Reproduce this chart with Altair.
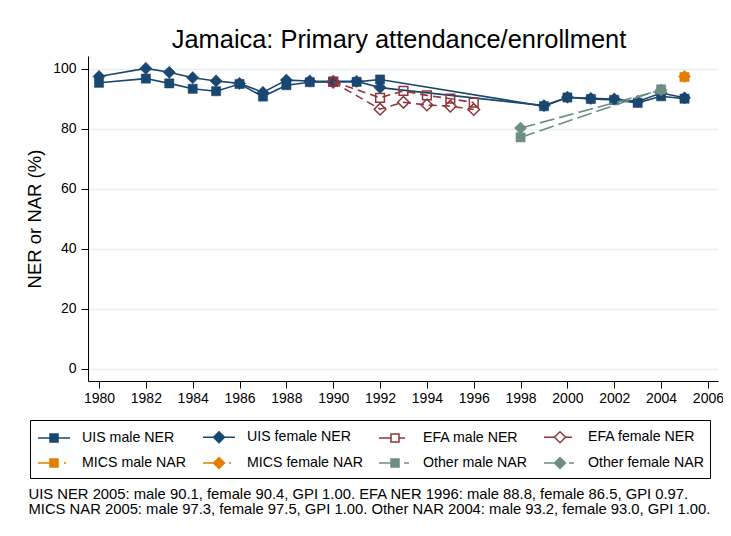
import altair as alt
import pandas as pd

# ---------------- data ----------------
uis_years = [1980, 1982, 1983, 1984, 1985, 1986, 1987, 1988, 1989, 1990, 1991, 1992,
             1999, 2000, 2001, 2002, 2003, 2004, 2005]
uis_male = [95.4, 96.8, 95.2, 93.4, 92.6, 95.0, 90.8, 94.6, 95.6, 95.7, 95.7, 96.5,
            87.6, 90.5, 90.0, 89.7, 88.7, 90.9, 90.1]
uis_female = [97.5, 100.2, 98.9, 97.1, 96.0, 95.2, 92.2, 96.3, 96.0, 95.9, 95.9, 93.8,
              87.8, 90.6, 90.2, 90.0, 89.2, 92.0, 90.4]

efa_years = [1990, 1992, 1993, 1994, 1995, 1996]
efa_male = [95.8, 90.4, 92.7, 91.2, 90.1, 88.8]
efa_female = [95.6, 86.6, 88.9, 88.0, 87.6, 86.5]

mics_years = [2005]
mics_male = [97.3]
mics_female = [97.5]

other_years = [1998, 2004]
other_male = [77.2, 93.2]
other_female = [80.3, 93.0]

x_ticks = list(range(1980, 2007, 2))
y_ticks = [0, 20, 40, 60, 80, 100]

title_text = "Jamaica: Primary attendance/enrollment"
y_title = "NER or NAR (%)"
note_lines = [
    "UIS NER 2005: male 90.1, female 90.4, GPI 1.00. EFA NER 1996: male 88.8, female 86.5, GPI 0.97.",
    "MICS NAR 2005: male 97.3, female 97.5, GPI 1.00. Other NAR 2004: male 93.2, female 93.0, GPI 1.00.",
]

series_names = ["UIS male NER", "UIS female NER", "EFA male NER", "EFA female NER",
                "MICS male NAR", "MICS female NAR", "Other male NAR", "Other female NAR"]

# ---------------- styles ----------------
NAVY, MAROON, ORANGE, TEAL = "#1a476f", "#90353b", "#e37e00", "#6e8e84"
colors = [NAVY, NAVY, MAROON, MAROON, ORANGE, ORANGE, TEAL, TEAL]
fills = [NAVY, NAVY, "white", "white", ORANGE, ORANGE, TEAL, TEAL]
hollow = [False, False, True, True, False, False, False, False]
dashes = [None, None, [8, 5], [8, 5], None, None, [15, 5], [15, 5]]
plot_shapes = ["square", "diamond"] * 4
plot_sizes = [85, 150] * 4

SQ = "M-0.4,-0.4H0.4V0.4H-0.4Z"
DI = "M0,-0.55L0.55,0L0,0.55L-0.55,0Z"
legend_paths = [
    "M-1.6,0H1.6" + SQ,
    "M-1.6,0H1.6" + DI,
    "M-1.6,0H-0.4M0.4,0H1.0" + SQ,
    "M-1.6,0H-0.55M0.55,0H1.2" + DI,
    "M-1.6,0H-0.4M1.0,0H1.2" + SQ,
    "M-1.6,0H-0.55M1.0,0H1.2" + DI,
    "M-1.6,0H-0.4M0.9,0H1.4" + SQ,
    "M-1.6,0H-0.55M0.9,0H1.4" + DI,
]

FONT = "Liberation Sans"

rows = []
groups = [
    (uis_years, uis_male, uis_female, 0),
    (efa_years, efa_male, efa_female, 2),
    (mics_years, mics_male, mics_female, 4),
    (other_years, other_male, other_female, 6),
]
for yrs, male, female, k in groups:
    for yr, v in zip(yrs, male):
        rows.append({"year": yr, "value": v, "series": series_names[k]})
    for yr, v in zip(yrs, female):
        rows.append({"year": yr, "value": v, "series": series_names[k + 1]})
df = pd.DataFrame(rows)

x_enc = alt.X(
    "year:Q",
    scale=alt.Scale(domain=[1979.53, 2006.43], nice=False, zero=False),
    axis=alt.Axis(
        values=x_ticks, format="d", grid=False, tickSize=7, labelPadding=3,
        labelFontSize=14, labelFont=FONT, labelColor="black",
        domainColor="black", tickColor="black", labelFlush=False,
        title=note_lines, titleFont=FONT, titleFontSize=14.8, titleFontWeight="normal",
        titleColor="black", titleX=-60, titleY=117, titleAlign="left", titleAngle=0,
        titleBaseline="alphabetic", titleLineHeight=15, titleAnchor="start",
    ),
)
y_enc = alt.Y(
    "value:Q",
    scale=alt.Scale(domain=[-4, 104.33], nice=False, zero=False),
    axis=alt.Axis(
        values=y_ticks, grid=True, gridColor="#e6eef1", gridWidth=1.3,
        tickSize=7, labelPadding=5, labelFontSize=14, labelFont=FONT, labelColor="black",
        domainColor="black", tickColor="black",
        title=y_title, titleFont=FONT, titleFontSize=18.5, titleFontWeight="normal",
        titleColor="black", titlePadding=8,
    ),
)

base = alt.Chart(df)

layers = []
for i, s in enumerate(series_names):
    sub = base.transform_filter(alt.datum.series == s)
    if not s.startswith("MICS"):
        line_kw = dict(strokeWidth=1.6, color=colors[i])
        if dashes[i]:
            line_kw["strokeDash"] = dashes[i]
        enc = dict(x=x_enc, y=y_enc) if i == 0 else dict(x="year:Q", y="value:Q")
        layers.append(sub.mark_line(**line_kw).encode(**enc))
    if hollow[i]:
        m = sub.mark_point(shape=plot_shapes[i], size=plot_sizes[i] * 0.9, filled=False,
                           opacity=1, color=colors[i], strokeWidth=1.5)
    else:
        m = sub.mark_point(shape=plot_shapes[i], size=plot_sizes[i], filled=True,
                           opacity=1, color=colors[i], stroke=colors[i], strokeWidth=0.5)
    layers.append(m.encode(x="year:Q", y="value:Q"))

leg_def = alt.Legend(
    orient="none", legendX=-58, legendY=364, columns=4, direction="horizontal", title="",
    symbolSize=400, symbolStrokeWidth=1.5, symbolOffset=7, labelOffset=17,
    labelFont=FONT, labelFontSize=14.2, labelColor="black", labelLimit=300,
    columnPadding=13, rowPadding=6, padding=6, strokeColor="black",
    symbolOpacity=1,
)

# invisible layer whose only job is to carry the legend
legend_layer = base.mark_point(filled=False, opacity=0).encode(
    x="year:Q", y="value:Q",
    shape=alt.Shape("series:N", scale=alt.Scale(domain=series_names, range=legend_paths), legend=leg_def),
    stroke=alt.Stroke("series:N", scale=alt.Scale(domain=series_names, range=colors), legend=leg_def),
    fill=alt.Fill("series:N", scale=alt.Scale(domain=series_names, range=fills), legend=leg_def),
)

chart = alt.layer(*layers, legend_layer).properties(
    width=630, height=325,
    title=alt.TitleParams(title_text, font=FONT, fontSize=25.4, fontWeight="normal",
                          color="black", anchor="middle", offset=3, dx=-4),
    autosize=alt.AutoSizeParams(type="none"),
    padding={"left": 80, "top": 48, "right": 5, "bottom": 147},
    background="white",
).configure_view(stroke=None)

chart.save("out.html", embed_options={"renderer": "svg", "actions": False})
